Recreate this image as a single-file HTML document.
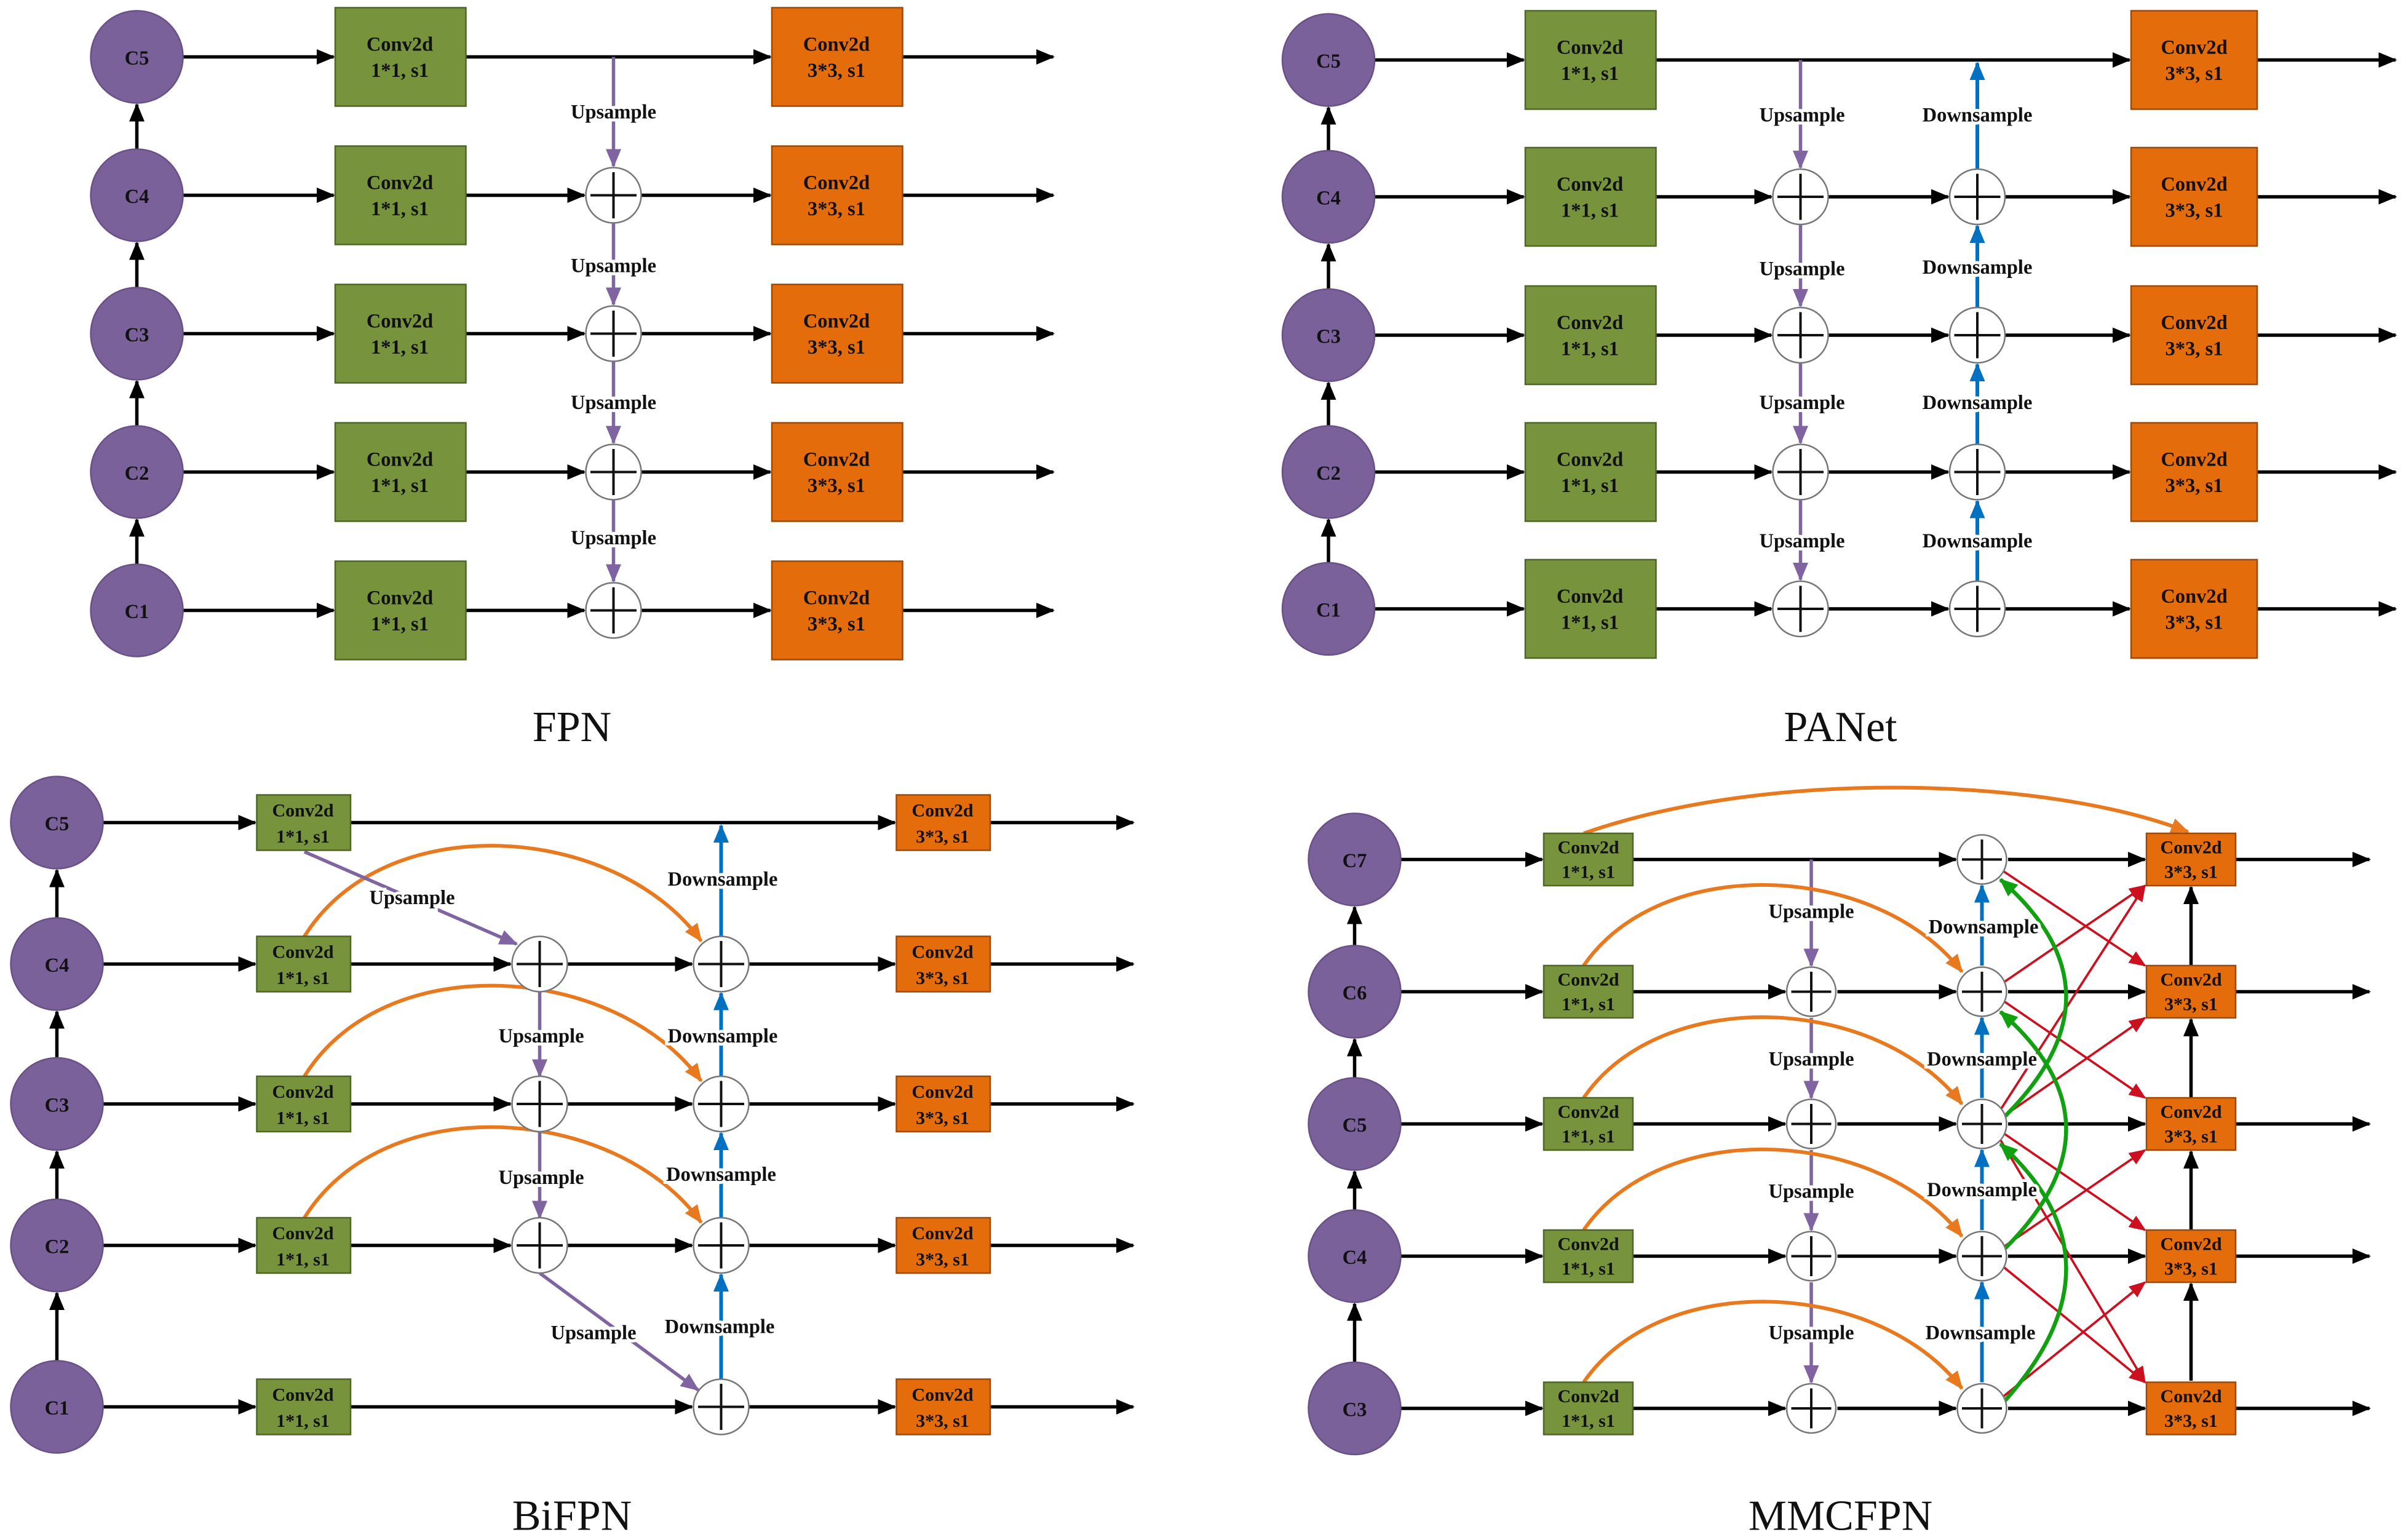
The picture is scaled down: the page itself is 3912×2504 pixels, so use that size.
<!DOCTYPE html>
<html><head><meta charset="utf-8"><style>
html,body{margin:0;padding:0;background:#fff}
svg{display:block}
text{font-family:"Liberation Serif",serif;font-weight:bold;fill:#111}
.lb{font-size:13px;text-anchor:middle;paint-order:stroke;stroke:#fff;stroke-width:4px}
.bx{font-size:13px;text-anchor:middle}
.sb{font-size:12px;text-anchor:middle}
.ci{font-size:13px;text-anchor:middle}
.t{font-size:28px;font-weight:normal;text-anchor:middle}
.k{stroke:#000;stroke-width:2.2;fill:none}
.p{stroke:#8064A2;stroke-width:2.2;fill:none}
.b{stroke:#0070C0;stroke-width:2.4;fill:none}
.o{stroke:#E8791E;stroke-width:2.4;fill:none}
.r{stroke:#CC1020;stroke-width:1.5;fill:none}
.g{stroke:#10A010;stroke-width:2.6;fill:none}
.cir{fill:#7B6199;stroke:#6a5088;stroke-width:1}
.gb{fill:#77933C;stroke:#4e6626;stroke-width:1}
.ob{fill:#E46C0A;stroke:#9a4a0a;stroke-width:1}
.pl{fill:#fff;stroke:#777;stroke-width:1}
.k{marker-end:url(#ak)}.p{marker-end:url(#ap)}.b{marker-end:url(#ab)}.o{marker-end:url(#ao)}.r{marker-end:url(#ar)}.g{marker-end:url(#ag)}
</style></head><body>
<svg width="3912" height="2504" viewBox="0 0 1564.8 1001.6" xmlns="http://www.w3.org/2000/svg">
<defs>
<marker id="ak" markerUnits="userSpaceOnUse" markerWidth="12" markerHeight="10" refX="11" refY="5" orient="auto"><path d="M0,0 L12,5 L0,10 z" fill="#000"/></marker>
<marker id="ap" markerUnits="userSpaceOnUse" markerWidth="12" markerHeight="10" refX="11" refY="5" orient="auto"><path d="M0,0 L12,5 L0,10 z" fill="#8064A2"/></marker>
<marker id="ab" markerUnits="userSpaceOnUse" markerWidth="12" markerHeight="10" refX="11" refY="5" orient="auto"><path d="M0,0 L12,5 L0,10 z" fill="#0070C0"/></marker>
<marker id="ao" markerUnits="userSpaceOnUse" markerWidth="12" markerHeight="10" refX="11" refY="5" orient="auto"><path d="M0,0 L12,5 L0,10 z" fill="#E8791E"/></marker>
<marker id="ar" markerUnits="userSpaceOnUse" markerWidth="11" markerHeight="9" refX="10" refY="4.5" orient="auto"><path d="M0,0 L11,4.5 L0,9 z" fill="#CC1020"/></marker>
<marker id="ag" markerUnits="userSpaceOnUse" markerWidth="12" markerHeight="10" refX="11" refY="5" orient="auto"><path d="M0,0 L12,5 L0,10 z" fill="#10A010"/></marker>
<g id="plus"><circle r="18" class="pl"/><path d="M-15,0H15M0,-15V15" stroke="#111" stroke-width="1.6"/></g>
<g id="plus2"><circle r="16" class="pl"/><path d="M-13,0H13M0,-13V13" stroke="#111" stroke-width="1.6"/></g>
</defs>

<!-- ================= FPN ================= -->
<g>
<path class="k" d="M89,97V68"/><path class="k" d="M89,187V158"/><path class="k" d="M89,277V248"/><path class="k" d="M89,367V338"/>
<path class="k" d="M119,37H217"/><path class="k" d="M119,127H217"/><path class="k" d="M119,217H217"/><path class="k" d="M119,307H217"/><path class="k" d="M119,397H217"/>
<path class="k" d="M303,37H501"/><path class="k" d="M303,127H380"/><path class="k" d="M303,217H380"/><path class="k" d="M303,307H380"/><path class="k" d="M303,397H380"/>
<path class="k" d="M417,127H501"/><path class="k" d="M417,217H501"/><path class="k" d="M417,307H501"/><path class="k" d="M417,397H501"/>
<path class="k" d="M587,37H685"/><path class="k" d="M587,127H685"/><path class="k" d="M587,217H685"/><path class="k" d="M587,307H685"/><path class="k" d="M587,397H685"/>
<path class="p" d="M399,37V108"/><path class="p" d="M399,145V198"/><path class="p" d="M399,235V288"/><path class="p" d="M399,325V378"/>
<text class="lb" x="399" y="77">Upsample</text>
<text class="lb" x="399" y="177">Upsample</text>
<text class="lb" x="399" y="266">Upsample</text>
<text class="lb" x="399" y="354">Upsample</text>
<circle cx="89" cy="37" r="30" class="cir"/><circle cx="89" cy="127" r="30" class="cir"/><circle cx="89" cy="217" r="30" class="cir"/><circle cx="89" cy="307" r="30" class="cir"/><circle cx="89" cy="397" r="30" class="cir"/>
<text class="ci" x="89" y="42">C5</text><text class="ci" x="89" y="132">C4</text><text class="ci" x="89" y="222">C3</text><text class="ci" x="89" y="312">C2</text><text class="ci" x="89" y="402">C1</text>
<rect x="218" y="5" width="85" height="64" class="gb"/><rect x="218" y="95" width="85" height="64" class="gb"/><rect x="218" y="185" width="85" height="64" class="gb"/><rect x="218" y="275" width="85" height="64" class="gb"/><rect x="218" y="365" width="85" height="64" class="gb"/>
<rect x="502" y="5" width="85" height="64" class="ob"/><rect x="502" y="95" width="85" height="64" class="ob"/><rect x="502" y="185" width="85" height="64" class="ob"/><rect x="502" y="275" width="85" height="64" class="ob"/><rect x="502" y="365" width="85" height="64" class="ob"/>
<text class="bx" x="260" y="33">Conv2d</text><text class="bx" x="260" y="50">1*1, s1</text>
<text class="bx" x="260" y="123">Conv2d</text><text class="bx" x="260" y="140">1*1, s1</text>
<text class="bx" x="260" y="213">Conv2d</text><text class="bx" x="260" y="230">1*1, s1</text>
<text class="bx" x="260" y="303">Conv2d</text><text class="bx" x="260" y="320">1*1, s1</text>
<text class="bx" x="260" y="393">Conv2d</text><text class="bx" x="260" y="410">1*1, s1</text>
<text class="bx" x="544" y="33">Conv2d</text><text class="bx" x="544" y="50">3*3, s1</text>
<text class="bx" x="544" y="123">Conv2d</text><text class="bx" x="544" y="140">3*3, s1</text>
<text class="bx" x="544" y="213">Conv2d</text><text class="bx" x="544" y="230">3*3, s1</text>
<text class="bx" x="544" y="303">Conv2d</text><text class="bx" x="544" y="320">3*3, s1</text>
<text class="bx" x="544" y="393">Conv2d</text><text class="bx" x="544" y="410">3*3, s1</text>
<use href="#plus" x="399" y="127"/><use href="#plus" x="399" y="217"/><use href="#plus" x="399" y="307"/><use href="#plus" x="399" y="397"/>
<text class="t" x="372" y="482">FPN</text>
</g>

<!-- ================= PANet ================= -->
<g>
<path class="k" d="M864,98V70"/><path class="k" d="M864,188V159"/><path class="k" d="M864,277V249"/><path class="k" d="M864,366V338"/>
<path class="k" d="M894,39H991"/><path class="k" d="M894,128H991"/><path class="k" d="M894,218H991"/><path class="k" d="M894,307H991"/><path class="k" d="M894,396H991"/>
<path class="k" d="M1077,39H1385"/><path class="k" d="M1077,128H1152"/><path class="k" d="M1077,218H1152"/><path class="k" d="M1077,307H1152"/><path class="k" d="M1077,396H1152"/>
<path class="k" d="M1189,128H1267"/><path class="k" d="M1189,218H1267"/><path class="k" d="M1189,307H1267"/><path class="k" d="M1189,396H1267"/>
<path class="k" d="M1304,128H1385"/><path class="k" d="M1304,218H1385"/><path class="k" d="M1304,307H1385"/><path class="k" d="M1304,396H1385"/>
<path class="k" d="M1468,39H1558"/><path class="k" d="M1468,128H1558"/><path class="k" d="M1468,218H1558"/><path class="k" d="M1468,307H1558"/><path class="k" d="M1468,396H1558"/>
<path class="p" d="M1171,39V109"/><path class="p" d="M1171,146V199"/><path class="p" d="M1171,236V288"/><path class="p" d="M1171,325V377"/>
<path class="b" d="M1286,378V326"/><path class="b" d="M1286,289V237"/><path class="b" d="M1286,200V147"/><path class="b" d="M1286,110V41"/>
<text class="lb" x="1172" y="79">Upsample</text><text class="lb" x="1172" y="179">Upsample</text><text class="lb" x="1172" y="266">Upsample</text><text class="lb" x="1172" y="356">Upsample</text>
<text class="lb" x="1286" y="79">Downsample</text><text class="lb" x="1286" y="178">Downsample</text><text class="lb" x="1286" y="266">Downsample</text><text class="lb" x="1286" y="356">Downsample</text>
<circle cx="864" cy="39" r="30" class="cir"/><circle cx="864" cy="128" r="30" class="cir"/><circle cx="864" cy="218" r="30" class="cir"/><circle cx="864" cy="307" r="30" class="cir"/><circle cx="864" cy="396" r="30" class="cir"/>
<text class="ci" x="864" y="44">C5</text><text class="ci" x="864" y="133">C4</text><text class="ci" x="864" y="223">C3</text><text class="ci" x="864" y="312">C2</text><text class="ci" x="864" y="401">C1</text>
<rect x="992" y="7" width="85" height="64" class="gb"/><rect x="992" y="96" width="85" height="64" class="gb"/><rect x="992" y="186" width="85" height="64" class="gb"/><rect x="992" y="275" width="85" height="64" class="gb"/><rect x="992" y="364" width="85" height="64" class="gb"/>
<rect x="1386" y="7" width="82" height="64" class="ob"/><rect x="1386" y="96" width="82" height="64" class="ob"/><rect x="1386" y="186" width="82" height="64" class="ob"/><rect x="1386" y="275" width="82" height="64" class="ob"/><rect x="1386" y="364" width="82" height="64" class="ob"/>
<text class="bx" x="1034" y="35">Conv2d</text><text class="bx" x="1034" y="52">1*1, s1</text>
<text class="bx" x="1034" y="124">Conv2d</text><text class="bx" x="1034" y="141">1*1, s1</text>
<text class="bx" x="1034" y="214">Conv2d</text><text class="bx" x="1034" y="231">1*1, s1</text>
<text class="bx" x="1034" y="303">Conv2d</text><text class="bx" x="1034" y="320">1*1, s1</text>
<text class="bx" x="1034" y="392">Conv2d</text><text class="bx" x="1034" y="409">1*1, s1</text>
<text class="bx" x="1427" y="35">Conv2d</text><text class="bx" x="1427" y="52">3*3, s1</text>
<text class="bx" x="1427" y="124">Conv2d</text><text class="bx" x="1427" y="141">3*3, s1</text>
<text class="bx" x="1427" y="214">Conv2d</text><text class="bx" x="1427" y="231">3*3, s1</text>
<text class="bx" x="1427" y="303">Conv2d</text><text class="bx" x="1427" y="320">3*3, s1</text>
<text class="bx" x="1427" y="392">Conv2d</text><text class="bx" x="1427" y="409">3*3, s1</text>
<use href="#plus" x="1171" y="128"/><use href="#plus" x="1171" y="218"/><use href="#plus" x="1171" y="307"/><use href="#plus" x="1171" y="396"/>
<use href="#plus" x="1286" y="128"/><use href="#plus" x="1286" y="218"/><use href="#plus" x="1286" y="307"/><use href="#plus" x="1286" y="396"/>
<text class="t" x="1197" y="482">PANet</text>
</g>

<!-- ================= BiFPN ================= -->
<g>
<path class="k" d="M37,597V566"/><path class="k" d="M37,688V658"/><path class="k" d="M37,780V749"/><path class="k" d="M37,885V841"/>
<path class="k" d="M67,535H166"/><path class="k" d="M67,627H166"/><path class="k" d="M67,718H166"/><path class="k" d="M67,810H166"/><path class="k" d="M67,915H166"/>
<path class="k" d="M228,535H582"/><path class="k" d="M228,627H332"/><path class="k" d="M228,718H332"/><path class="k" d="M228,810H332"/><path class="k" d="M228,915H450"/>
<path class="k" d="M369,627H450"/><path class="k" d="M369,718H450"/><path class="k" d="M369,810H450"/>
<path class="k" d="M487,627H582"/><path class="k" d="M487,718H582"/><path class="k" d="M487,810H582"/><path class="k" d="M487,915H582"/>
<path class="k" d="M644,535H737"/><path class="k" d="M644,627H737"/><path class="k" d="M644,718H737"/><path class="k" d="M644,810H737"/><path class="k" d="M644,915H737"/>
<path class="o" d="M198,609C250,525 400,535 456,612"/>
<path class="o" d="M198,700C250,616 400,626 456,703"/>
<path class="o" d="M198,792C250,708 400,718 456,795"/>
<path class="p" d="M198,554L336,614"/>
<path class="p" d="M351,645V700"/><path class="p" d="M351,736V792"/>
<path class="p" d="M351,828L454,904"/>
<path class="b" d="M469,897V829"/><path class="b" d="M469,792V737"/><path class="b" d="M469,700V646"/><path class="b" d="M469,609V537"/>
<text class="lb" x="268" y="588">Upsample</text>
<text class="lb" x="352" y="678">Upsample</text>
<text class="lb" x="352" y="770">Upsample</text>
<text class="lb" x="386" y="871">Upsample</text>
<text class="lb" x="470" y="576">Downsample</text>
<text class="lb" x="470" y="678">Downsample</text>
<text class="lb" x="469" y="768">Downsample</text>
<text class="lb" x="468" y="867">Downsample</text>
<circle cx="37" cy="535" r="30" class="cir"/><circle cx="37" cy="627" r="30" class="cir"/><circle cx="37" cy="718" r="30" class="cir"/><circle cx="37" cy="810" r="30" class="cir"/><circle cx="37" cy="915" r="30" class="cir"/>
<text class="ci" x="37" y="540">C5</text><text class="ci" x="37" y="632">C4</text><text class="ci" x="37" y="723">C3</text><text class="ci" x="37" y="815">C2</text><text class="ci" x="37" y="920">C1</text>
<rect x="167" y="517" width="61" height="36" class="gb"/><rect x="167" y="609" width="61" height="36" class="gb"/><rect x="167" y="700" width="61" height="36" class="gb"/><rect x="167" y="792" width="61" height="36" class="gb"/><rect x="167" y="897" width="61" height="36" class="gb"/>
<rect x="583" y="517" width="61" height="36" class="ob"/><rect x="583" y="609" width="61" height="36" class="ob"/><rect x="583" y="700" width="61" height="36" class="ob"/><rect x="583" y="792" width="61" height="36" class="ob"/><rect x="583" y="897" width="61" height="36" class="ob"/>
<text class="sb" x="197" y="531">Conv2d</text><text class="sb" x="197" y="548">1*1, s1</text>
<text class="sb" x="197" y="623">Conv2d</text><text class="sb" x="197" y="640">1*1, s1</text>
<text class="sb" x="197" y="714">Conv2d</text><text class="sb" x="197" y="731">1*1, s1</text>
<text class="sb" x="197" y="806">Conv2d</text><text class="sb" x="197" y="823">1*1, s1</text>
<text class="sb" x="197" y="911">Conv2d</text><text class="sb" x="197" y="928">1*1, s1</text>
<text class="sb" x="613" y="531">Conv2d</text><text class="sb" x="613" y="548">3*3, s1</text>
<text class="sb" x="613" y="623">Conv2d</text><text class="sb" x="613" y="640">3*3, s1</text>
<text class="sb" x="613" y="714">Conv2d</text><text class="sb" x="613" y="731">3*3, s1</text>
<text class="sb" x="613" y="806">Conv2d</text><text class="sb" x="613" y="823">3*3, s1</text>
<text class="sb" x="613" y="911">Conv2d</text><text class="sb" x="613" y="928">3*3, s1</text>
<use href="#plus" x="351" y="627"/><use href="#plus" x="351" y="718"/><use href="#plus" x="351" y="810"/>
<use href="#plus" x="469" y="627"/><use href="#plus" x="469" y="718"/><use href="#plus" x="469" y="810"/><use href="#plus" x="469" y="915"/>
<text class="t" x="372" y="995">BiFPN</text>
</g>

<!-- ================= MMCFPN ================= -->
<g>
<path class="k" d="M881,615V590"/><path class="k" d="M881,701V676"/><path class="k" d="M881,787V762"/><path class="k" d="M881,886V848"/>
<path class="k" d="M911,559H1003"/><path class="k" d="M911,645H1003"/><path class="k" d="M911,731H1003"/><path class="k" d="M911,817H1003"/><path class="k" d="M911,916H1003"/>
<path class="k" d="M1062,559H1272"/><path class="k" d="M1062,645H1161"/><path class="k" d="M1062,731H1161"/><path class="k" d="M1062,817H1161"/><path class="k" d="M1062,916H1161"/>
<path class="k" d="M1195,645H1272"/><path class="k" d="M1195,731H1272"/><path class="k" d="M1195,817H1272"/><path class="k" d="M1195,916H1272"/>
<path class="k" d="M1306,559H1395"/><path class="k" d="M1306,645H1395"/><path class="k" d="M1306,731H1395"/><path class="k" d="M1306,817H1395"/><path class="k" d="M1306,916H1395"/>
<path class="k" d="M1454,559H1541"/><path class="k" d="M1454,645H1541"/><path class="k" d="M1454,731H1541"/><path class="k" d="M1454,817H1541"/><path class="k" d="M1454,916H1541"/>
<path class="k" d="M1425,898V835"/><path class="k" d="M1425,800V749"/><path class="k" d="M1425,714V663"/><path class="k" d="M1425,628V577"/>
<path class="p" d="M1178,559V628"/><path class="p" d="M1178,662V714"/><path class="p" d="M1178,748V800"/><path class="p" d="M1178,834V899"/>
<path class="b" d="M1289,899V834"/><path class="b" d="M1289,800V748"/><path class="b" d="M1289,714V662"/><path class="b" d="M1289,628V576"/>
<path class="o" d="M1030,542C1150,500 1330,505 1423,541"/>
<path class="o" d="M1030,628C1080,555 1220,560 1276,632"/>
<path class="o" d="M1030,714C1080,641 1220,646 1276,718"/>
<path class="o" d="M1030,800C1080,727 1220,732 1276,804"/>
<path class="o" d="M1030,899C1080,826 1220,831 1276,903"/>
<path class="r" d="M1302,566L1395,628"/>
<path class="r" d="M1303,639L1395,576"/><path class="r" d="M1303,651L1395,714"/>
<path class="r" d="M1299,725L1395,576"/><path class="r" d="M1303,726L1395,662"/><path class="r" d="M1303,737L1395,800"/><path class="r" d="M1299,738L1395,899"/>
<path class="r" d="M1303,811L1395,748"/><path class="r" d="M1303,824L1395,899"/>
<path class="r" d="M1302,909L1395,834"/>
<path class="g" d="M1304,726Q1385,645 1301,572"/>
<path class="g" d="M1304,812Q1385,731 1301,658"/>
<path class="g" d="M1304,911Q1385,820 1301,744"/>
<text class="lb" x="1178" y="597">Upsample</text><text class="lb" x="1178" y="693">Upsample</text><text class="lb" x="1178" y="779">Upsample</text><text class="lb" x="1178" y="871">Upsample</text>
<text class="lb" x="1290" y="607">Downsample</text><text class="lb" x="1289" y="693">Downsample</text><text class="lb" x="1289" y="778">Downsample</text><text class="lb" x="1288" y="871">Downsample</text>
<circle cx="881" cy="559" r="30" class="cir"/><circle cx="881" cy="645" r="30" class="cir"/><circle cx="881" cy="731" r="30" class="cir"/><circle cx="881" cy="817" r="30" class="cir"/><circle cx="881" cy="916" r="30" class="cir"/>
<text class="ci" x="881" y="564">C7</text><text class="ci" x="881" y="650">C6</text><text class="ci" x="881" y="736">C5</text><text class="ci" x="881" y="822">C4</text><text class="ci" x="881" y="921">C3</text>
<rect x="1004" y="542" width="58" height="34" class="gb"/><rect x="1004" y="628" width="58" height="34" class="gb"/><rect x="1004" y="714" width="58" height="34" class="gb"/><rect x="1004" y="800" width="58" height="34" class="gb"/><rect x="1004" y="899" width="58" height="34" class="gb"/>
<rect x="1396" y="542" width="58" height="34" class="ob"/><rect x="1396" y="628" width="58" height="34" class="ob"/><rect x="1396" y="714" width="58" height="34" class="ob"/><rect x="1396" y="800" width="58" height="34" class="ob"/><rect x="1396" y="899" width="58" height="34" class="ob"/>
<text class="sb" x="1033" y="555">Conv2d</text><text class="sb" x="1033" y="571">1*1, s1</text>
<text class="sb" x="1033" y="641">Conv2d</text><text class="sb" x="1033" y="657">1*1, s1</text>
<text class="sb" x="1033" y="727">Conv2d</text><text class="sb" x="1033" y="743">1*1, s1</text>
<text class="sb" x="1033" y="813">Conv2d</text><text class="sb" x="1033" y="829">1*1, s1</text>
<text class="sb" x="1033" y="912">Conv2d</text><text class="sb" x="1033" y="928">1*1, s1</text>
<text class="sb" x="1425" y="555">Conv2d</text><text class="sb" x="1425" y="571">3*3, s1</text>
<text class="sb" x="1425" y="641">Conv2d</text><text class="sb" x="1425" y="657">3*3, s1</text>
<text class="sb" x="1425" y="727">Conv2d</text><text class="sb" x="1425" y="743">3*3, s1</text>
<text class="sb" x="1425" y="813">Conv2d</text><text class="sb" x="1425" y="829">3*3, s1</text>
<text class="sb" x="1425" y="912">Conv2d</text><text class="sb" x="1425" y="928">3*3, s1</text>
<use href="#plus2" x="1178" y="645"/><use href="#plus2" x="1178" y="731"/><use href="#plus2" x="1178" y="817"/><use href="#plus2" x="1178" y="916"/>
<use href="#plus2" x="1289" y="559"/><use href="#plus2" x="1289" y="645"/><use href="#plus2" x="1289" y="731"/><use href="#plus2" x="1289" y="817"/><use href="#plus2" x="1289" y="916"/>
<text class="t" x="1197" y="995">MMCFPN</text>
</g>
</svg>
</body></html>
